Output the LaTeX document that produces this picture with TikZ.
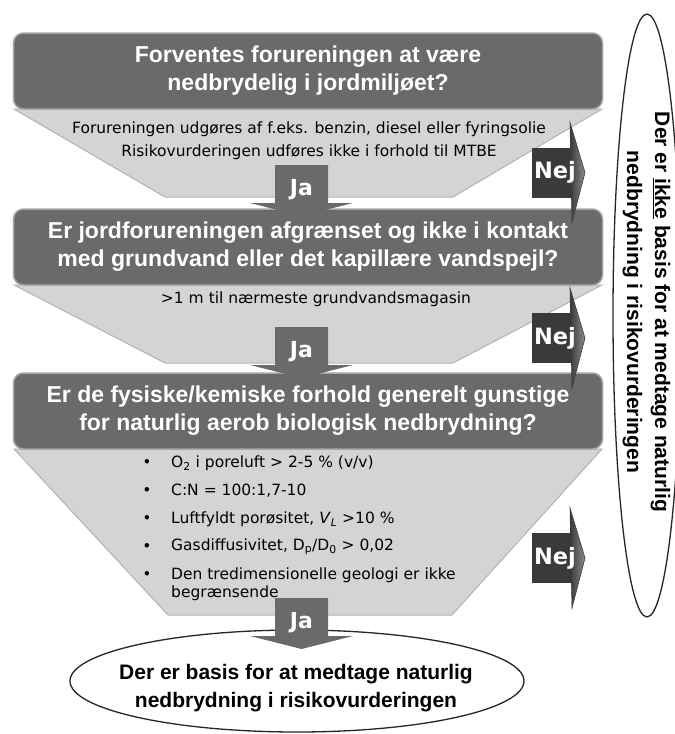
\documentclass[tikz,border=0pt]{standalone}
\usepackage{fontspec}
\setmainfont{Liberation Sans}
\newfontfamily\tah{DejaVu Sans}
\usetikzlibrary{shapes.geometric}
\definecolor{boxgray}{HTML}{6A6A6A}
\definecolor{boxedge}{HTML}{A6A6A6}
\definecolor{fungray}{HTML}{D4D4D4}
\definecolor{funedge}{HTML}{B2B2B2}
\definecolor{nejdark}{HTML}{3A3A3A}
\definecolor{nejlight}{HTML}{8C8C8C}
\tikzset{
  qbox/.style={fill=boxgray, draw=boxedge, line width=1.5pt, rounded corners=10pt,
    minimum width=589pt, minimum height=76pt, inner sep=0pt,
    text=white, align=center, font=\fontsize{23}{28}\selectfont\bfseries},
  funnel/.style={fill=fungray, draw=funedge, line width=1pt},
  ftext/.style={font=\tah\fontsize{15.5}{18}\selectfont, inner sep=0pt},
  btext/.style={font=\tah\fontsize{15.5}{18}\selectfont, inner sep=0pt, anchor=west, align=left},
  jashape/.style={fill=boxgray},
  jalabel/.style={text=white, font=\tah\bfseries\fontsize{22}{22}\selectfont, inner sep=0pt},
  nejbody/.style={fill=nejdark},
  nejhead/.style={left color=nejdark, right color=nejlight, draw=nejdark, line width=0.6pt},
  nejlabel/.style={text=white, font=\tah\bfseries\fontsize{22.5}{22.5}\selectfont, inner sep=0pt},
  endell/.style={ellipse, draw=black!85, line width=1.3pt, fill=white, inner sep=0pt},
  endtext/.style={font=\fontsize{21}{28}\selectfont\bfseries, align=center, inner sep=0pt}
}
\begin{document}
\begin{tikzpicture}[x=1pt,y=-1pt]
\useasboundingbox (0,0) rectangle (675,734);
% funnels
\path[funnel] (14,109) -- (602,109) -- (453,197) -- (165,197) -- cycle;
\path[funnel] (14,285) -- (602,285) -- (453,363) -- (165,363) -- cycle;
\path[funnel] (14,449) -- (602,449) -- (452,615) -- (168,615) -- cycle;
% question boxes
\node[qbox] (q1) at (308,71) {Forventes forureningen at være\\nedbrydelig i jordmiljøet?};
\node[qbox] (q2) at (308,247) {Er jordforureningen afgrænset og ikke i kontakt\\med grundvand eller det kapillære vandspejl?};
\node[qbox] (q3) at (308,411) {Er de fysiske/kemiske forhold generelt gunstige\\for naturlig aerob biologisk nedbrydning?};
% funnel texts
\node[ftext] (f1a) at (309,129) {Forureningen udgøres af f.eks. benzin, diesel eller fyringsolie};
\node[ftext] (f1b) at (309,152) {Risikovurderingen udføres ikke i forhold til MTBE};
\node[ftext] (f2) at (316,299) {>1 m til nærmeste grundvandsmagasin};
\foreach \yy/\nm in {463/b1,491/b2,519/b3,547/b4,575/b5}
  \node[ftext] (d\nm) at (147,\yy) {\textbullet};
\node[btext] (b1) at (171,463) {O\textsubscript{2} i poreluft > 2-5 \% (v/v)};
\node[btext] (b2) at (171,491) {C:N = 100:1,7-10};
\node[btext] (b3) at (171,519) {Luftfyldt porøsitet, \textit{V}\textsubscript{\textit{L}} >10 \%};
\node[btext] (b4) at (171,547) {Gasdiffusivitet, D\textsubscript{p}/D\textsubscript{0} > 0,02};
\node[btext] (b5) at (171,575) {Den tredimensionelle geologi er ikke};
\node[btext] (b5b) at (171,593) {begrænsende};
% end ellipses
\node[endell, minimum width=454pt, minimum height=102pt] (yes) at (297,681) {};
\node[endtext] (yest) at (296,688) {Der er basis for at medtage naturlig\\nedbrydning i risikovurderingen};
\node[endell, minimum width=68pt, minimum height=603pt] (no) at (647,315.5) {};
\node[endtext, rotate=-90] (not) at (646.5,312) {Der er \underline{ikke} basis for at medtage naturlig\\nedbrydning i risikovurderingen};
% Ja arrows
\foreach \t/\nm in {165/j1,327/j2,598/j3}{
  \path[jashape] (275,\t) -- (328,\t) -- (328,\t+38) -- (353,\t+38) -- (301.5,\t+51) -- (250,\t+38) -- (275,\t+38) -- cycle;
  \node[jalabel] (\nm) at (301.5,\t+25) {Ja};
}
% Nej arrows
\foreach \c/\nm in {172.5/n1,338/n2,558/n3}{
  \path[nejbody] (532,\c-25) rectangle (572,\c+25);
  \path[nejhead] (570,\c-50) -- (585,\c) -- (572,\c+50) -- cycle;
  \node[nejlabel] (\nm) at (555,\c) {Nej};
}
\end{tikzpicture}
\end{document}
